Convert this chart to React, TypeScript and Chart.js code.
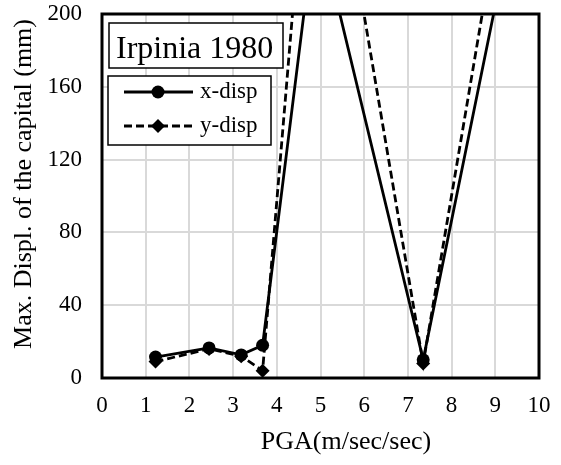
import React, { useEffect, useRef } from "react";
import { Chart, registerables } from "chart.js";

Chart.register(...registerables);

const pga = [1.225, 2.45, 3.185, 3.675, 4.9, 7.35, 9.8];
const xDisp = [11.5, 16.5, 12.7, 18, 254, 10, 299];
const yDisp = [9, 16, 12, 4, 355, 8, 356];
const xTicks = [0, 1, 2, 3, 4, 5, 6, 7, 8, 9, 10];
const yTicks = [0, 40, 80, 120, 160, 200];
const seriesNames = ["x-disp", "y-disp"];
const chartTitle = "Irpinia 1980";
const xTitle = "PGA(m/sec/sec)";
const yTitle = "Max. Displ. of the capital (mm)";

const FONT = "'Liberation Serif', 'Times New Roman', serif";

const overlayPlugin = {
  id: "overlay",
  afterDatasetsDraw(chart: any) {
    const { ctx, chartArea } = chart;
    ctx.save();
    ctx.strokeStyle = "#000";
    ctx.lineWidth = 3;
    ctx.strokeRect(chartArea.left, chartArea.top, chartArea.right - chartArea.left, chartArea.bottom - chartArea.top);
    ctx.restore();
  },
  afterDraw(chart: any) {
    const { ctx } = chart;
    ctx.save();
    // title box
    ctx.fillStyle = "#fff";
    ctx.fillRect(109, 23, 174, 45);
    ctx.strokeStyle = "#000";
    ctx.lineWidth = 1.5;
    ctx.strokeRect(109, 23, 174, 45);
    ctx.fillStyle = "#000";
    ctx.font = `32px ${FONT}`;
    ctx.textAlign = "left";
    ctx.textBaseline = "alphabetic";
    ctx.fillText(chartTitle, 116, 58);

    // legend box
    ctx.fillStyle = "#fff";
    ctx.fillRect(108, 76, 163, 69);
    ctx.strokeRect(108, 76, 163, 69);
    const rows = [92, 126];
    rows.forEach((y, i) => {
      ctx.strokeStyle = "#000";
      ctx.lineWidth = 2.8;
      ctx.setLineDash(i === 0 ? [] : [8, 4]);
      ctx.beginPath();
      ctx.moveTo(124, y);
      ctx.lineTo(193, y);
      ctx.stroke();
      ctx.setLineDash([]);
      ctx.fillStyle = "#000";
      ctx.beginPath();
      if (i === 0) {
        ctx.arc(158, y, 6.5, 0, Math.PI * 2);
      } else {
        ctx.moveTo(158, y - 7);
        ctx.lineTo(165, y);
        ctx.lineTo(158, y + 7);
        ctx.lineTo(151, y);
        ctx.closePath();
      }
      ctx.fill();
      ctx.font = `23px ${FONT}`;
      ctx.textBaseline = "middle";
      ctx.fillText(seriesNames[i], 200, y);
    });

    // axis titles
    ctx.fillStyle = "#000";
    ctx.font = `26px ${FONT}`;
    ctx.textAlign = "center";
    ctx.textBaseline = "middle";
    ctx.fillText(xTitle, 346, 442);
    ctx.translate(24, 184);
    ctx.rotate(-Math.PI / 2);
    ctx.fillText(yTitle, 0, 0);
    ctx.restore();
  },
};

export default function App() {
  const ref = useRef<HTMLCanvasElement>(null);
  useEffect(() => {
    document.body.style.margin = "0";
    const chart = new Chart(ref.current as HTMLCanvasElement, {
      type: "line",
      data: {
        datasets: [
          {
            label: seriesNames[0],
            data: pga.map((x, i) => ({ x, y: xDisp[i] })),
            borderColor: "#000",
            backgroundColor: "#000",
            borderWidth: 2.8,
            pointStyle: "circle",
            pointRadius: 6.5,
            pointBorderWidth: 0,
            tension: 0,
          },
          {
            label: seriesNames[1],
            data: pga.map((x, i) => ({ x, y: yDisp[i] })),
            borderColor: "#000",
            backgroundColor: "#000",
            borderWidth: 2.8,
            borderDash: [8, 4],
            pointStyle: "rectRot",
            pointRadius: 7,
            pointBorderWidth: 0,
            tension: 0,
          },
        ],
      },
      options: {
        animation: false,
        responsive: false,
        devicePixelRatio: 1,
        layout: { padding: { top: 14, right: 22, left: 0, bottom: 0 } },
        plugins: { legend: { display: false }, tooltip: { enabled: false }, title: { display: false } },
        scales: {
          x: {
            type: "linear",
            min: 0,
            max: 10,
            afterBuildTicks: (s: any) => { s.ticks = xTicks.map((v) => ({ value: v })); },
            afterFit: (s: any) => { s.height = 87; s.paddingLeft = 0; s.paddingRight = 0; },
            ticks: { color: "#000", font: { family: FONT, size: 23 }, padding: 14, maxRotation: 0 },
            grid: { color: "#d9d9d9", lineWidth: 2, drawTicks: false },
            border: { display: false },
          },
          y: {
            min: 0,
            max: 200,
            afterBuildTicks: (s: any) => { s.ticks = yTicks.map((v) => ({ value: v })); },
            afterFit: (s: any) => { s.width = 102; s.paddingTop = 0; s.paddingBottom = 0; },
            ticks: { color: "#000", font: { family: FONT, size: 23 }, padding: 20 },
            grid: { color: "#d9d9d9", lineWidth: 2, drawTicks: false },
            border: { display: false },
          },
        },
      },
      plugins: [overlayPlugin],
    });
    return () => chart.destroy();
  }, []);
  return (
    <div style={{ position: "absolute", left: 0, top: 0, width: 561, height: 465 }}>
      <canvas ref={ref} width={561} height={465} style={{ width: 561, height: 465 }} />
    </div>
  );
}
